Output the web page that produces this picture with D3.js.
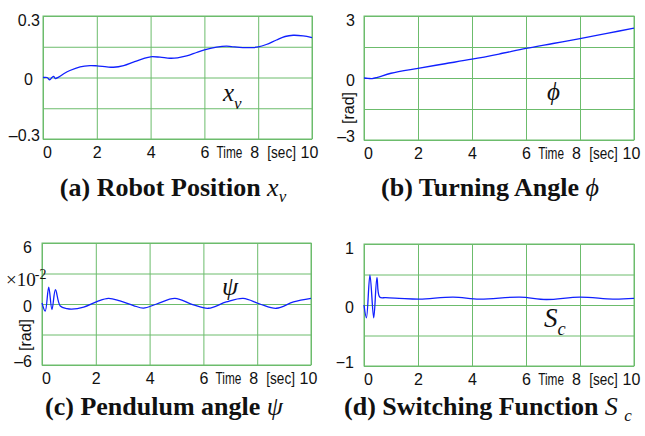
<!DOCTYPE html>
<html>
<head>
<meta charset="utf-8">
<script src="https://d3js.org/d3.v7.min.js"></script>
<style>
body { margin: 0; background: #fff; }
svg { display: block; }
</style>
</head>
<body>
<div id="chart"></div>
<script>
var w = 645;
var h = 436;
var gridColor = "#6cbc6c";
var lineColor = "#1020ff";
var sansFont = "'Liberation Sans', Arial, sans-serif";
var serifFont = "'Liberation Serif', 'Times New Roman', serif";

// time axis, shared by all four plots
var timeTicks = [0, 2, 4, 6, 8, 10];

// (a) robot position x_v
var posTime = [0, 0.15, 0.25, 0.33, 0.4, 0.46, 0.58, 0.77, 1.0, 1.38, 1.75, 2.0, 2.37, 2.62, 3.0, 3.36, 3.73, 4.0,
  4.35, 4.72, 5.0, 5.34, 5.71, 6.0, 6.45, 6.82, 7.0, 7.43, 7.8, 8.0, 8.3, 8.68, 9.0, 9.3, 9.67, 10];
var posValues = [0, 0, -0.011, 0, 0.005, -0.005, 0.002, 0.018, 0.034, 0.052, 0.058, 0.057, 0.052, 0.050, 0.058, 0.075, 0.092, 0.101,
  0.099, 0.094, 0.096, 0.105, 0.122, 0.135, 0.148, 0.153, 0.151, 0.146, 0.146, 0.149, 0.161, 0.183, 0.200, 0.206, 0.203, 0.195];
var posTicks = [-0.3, -0.15, 0, 0.15, 0.3];
var posLabels = ["\u20130.3", "", "0", "", "0.3"];

// (b) turning angle phi
var angTime = [0, 0.15, 0.3, 0.5, 1, 2, 3, 4, 5, 6, 7, 8, 9, 10];
var angValues = [0, -0.02, -0.03, 0.03, 0.23, 0.47, 0.69, 0.91, 1.16, 1.43, 1.67, 1.91, 2.16, 2.41];
var angTicks = [-3, -1.5, 0, 1.5, 3];
var angLabels = ["\u20133", "", "0", "", "3"];

// (c) pendulum angle psi (x10^-2 rad)
var penTime = [0, 0.12, 0.25, 0.37, 0.5, 0.68, 0.93, 1.1, 1.55, 2.04, 2.47, 2.9, 3.4, 3.77, 4.26, 4.94,
  5.6, 6.18, 6.85, 7.48, 8.1, 8.71, 9.35, 10];
var penValues = [0.1, -0.7, 1.65, -0.55, 1.4, -0.2, -0.45, -0.5, -0.3, 0.23, 0.55, 0.3, -0.15, -0.4, 0, 0.55,
  -0.05, -0.42, 0.2, 0.55, 0.0, -0.42, 0.2, 0.55];
var penTicks = [-6, -3, 0, 3, 6];
var penLabels = ["\u20136", "", "0", "", "6"];

// (d) switching function S_c
var swTime = [0, 0.09, 0.22, 0.36, 0.48, 0.58, 0.8, 1.3, 2.06, 3.3, 4.28, 5.77, 6.75, 7.99, 9.22, 10];
var swValues = [0, -0.21, 0.49, -0.21, 0.45, 0.13, 0.12, 0.11, 0.097, 0.13, 0.097, 0.13, 0.09, 0.13, 0.097, 0.108];
var swTicks = [-1, -0.5, 0, 0.5, 1];
var swLabels = ["\u22121", "", "0", "", "1"];

// narrow words next to the time ticks ("Time", "[sec]")
function axisWord(g, x, word, squeeze) {
  g.append("text")
    .attr("transform", "translate(" + x + ",8) scale(" + squeeze + ",1)")
    .attr("dy", "0.71em")
    .attr("text-anchor", "middle")
    .attr("font-family", sansFont)
    .attr("font-size", "16px")
    .attr("fill", "#111")
    .text(word);
}

function createPanel(svg, p) {
  var xScale = d3.scaleLinear().domain([0, 10]).range([p.left, p.right]);
  var yScale = d3.scaleLinear().domain([p.yTicks[0], p.yTicks[p.yTicks.length - 1]]).range([p.bottom, p.top]);
  var ph = p.bottom - p.top;
  var pw = p.right - p.left;

  // vertical grid + time labels
  var xAxis = d3.axisBottom(xScale)
    .tickValues(timeTicks)
    .tickSize(-ph)
    .tickPadding(8)
    .tickFormat(d3.format("d"));
  var gx = svg.append("g")
    .attr("transform", "translate(0," + p.bottom + ")")
    .call(xAxis);
  gx.select(".domain").remove();
  gx.selectAll("line").attr("stroke", gridColor);
  gx.selectAll("text")
    .attr("font-family", sansFont)
    .attr("font-size", "16px")
    .attr("fill", "#111")
    .attr("dx", function(d) { return d == 0 ? 4 : d == 8 ? -4 : d == 10 ? -3 : 0; });

  axisWord(gx, xScale(6.93), "Time", 0.74);
  axisWord(gx, xScale(8.87), "[sec]", 0.85);

  // horizontal grid + value labels
  var yAxis = d3.axisLeft(yScale)
    .tickValues(p.yTicks)
    .tickSize(-pw)
    .tickPadding(p.pad)
    .tickFormat(function(d, i) { return p.yLabels[i]; });
  var gy = svg.append("g")
    .attr("transform", "translate(" + p.left + ",0)")
    .call(yAxis);
  gy.select(".domain").remove();
  gy.selectAll("line").attr("stroke", gridColor);
  gy.selectAll("text")
    .attr("font-family", sansFont)
    .attr("font-size", "16px")
    .attr("fill", "#111")
    .attr("dy", function(d, i) { return i == 0 ? "0.1em" : i == p.yTicks.length - 1 ? "0.6em" : "0.45em"; })
    .attr("dx", function(d) { return d == 0 ? p.zeroShift : 0; });

  svg.append("rect")
    .attr("x", p.left)
    .attr("y", p.top)
    .attr("width", pw)
    .attr("height", ph)
    .attr("fill", "none")
    .attr("stroke", gridColor);

  var line = d3.line()
    .x(function(d, i) { return xScale(p.t[i]); })
    .y(function(d) { return yScale(d); })
    .curve(d3.curveCatmullRom);

  svg.append("path")
    .datum(p.v)
    .attr("fill", "none")
    .attr("stroke", lineColor)
    .attr("stroke-width", 1.3)
    .attr("d", line);

  return { x: xScale, y: yScale };
}

function radLabel(svg, x, y) {
  svg.append("text")
    .attr("transform", "translate(" + x + "," + y + ") rotate(-90)")
    .attr("text-anchor", "middle")
    .attr("dy", "0.35em")
    .attr("font-family", sansFont)
    .attr("font-size", "16px")
    .attr("fill", "#111")
    .text("[rad]");
}

function symbol(svg, x, y, main, sub, size) {
  var t = svg.append("text")
    .attr("x", x)
    .attr("y", y)
    .attr("font-family", serifFont)
    .attr("font-style", "italic")
    .attr("font-size", size + "px")
    .attr("fill", "#111");
  t.append("tspan").text(main);
  if (sub) {
    t.append("tspan")
      .attr("dy", size * 0.3)
      .attr("font-size", (size * 0.68) + "px")
      .text(sub);
  }
}

function title(svg, cx, y, bold, main, sub) {
  var t = svg.append("text")
    .attr("x", cx)
    .attr("y", y)
    .attr("text-anchor", "middle")
    .attr("font-family", serifFont)
    .attr("font-size", "26px")
    .attr("fill", "#111");
  t.append("tspan").attr("font-weight", "bold").text(bold);
  t.append("tspan").attr("font-style", "italic").text(main);
  if (sub) {
    t.append("tspan")
      .attr("font-style", "italic")
      .attr("font-size", "17px")
      .attr("dy", 6)
      .text(sub);
  }
}

function main() {
  var svg = d3.select("#chart")
    .append("svg")
    .attr("width", w)
    .attr("height", h);

  createPanel(svg, { left: 43, right: 312, top: 16, bottom: 139, t: posTime, v: posValues,
    yTicks: posTicks, yLabels: posLabels, pad: 3, zeroShift: -7 });
  createPanel(svg, { left: 364, right: 634, top: 16, bottom: 140, t: angTime, v: angValues,
    yTicks: angTicks, yLabels: angLabels, pad: 9, zeroShift: 0 });
  createPanel(svg, { left: 42, right: 311, top: 243, bottom: 365, t: penTime, v: penValues,
    yTicks: penTicks, yLabels: penLabels, pad: 10, zeroShift: 0 });
  createPanel(svg, { left: 364, right: 634, top: 244, bottom: 366, t: swTime, v: swValues,
    yTicks: swTicks, yLabels: swLabels, pad: 10, zeroShift: 0 });

  radLabel(svg, 348, 108);
  radLabel(svg, 25, 335);

  // x10^-2 multiplier
  var m = svg.append("text")
    .attr("x", 6)
    .attr("y", 286)
    .attr("font-family", serifFont)
    .attr("font-size", "19px")
    .attr("fill", "#111");
  m.append("tspan").text("\u00d710");
  m.append("tspan").attr("dy", -7).attr("dx", -1).attr("font-size", "14px").text("-2");

  symbol(svg, 223, 101, "x", "v", 25);
  symbol(svg, 547, 100, "\u03d5", null, 25);
  symbol(svg, 222, 295, "\u03c8", null, 26);
  symbol(svg, 544, 327, "S", "c", 27);

  title(svg, 173, 196, "(a) Robot Position ", "x", "v");
  title(svg, 490, 196, "(b) Turning Angle ", "\u03d5", null);
  title(svg, 164, 415, "(c) Pendulum angle ", "\u03c8", null);
  title(svg, 488, 415, "(d) Switching Function ", "S ", "c");
}

window.onload = function() {
  main();
};
</script>
</body>
</html>
